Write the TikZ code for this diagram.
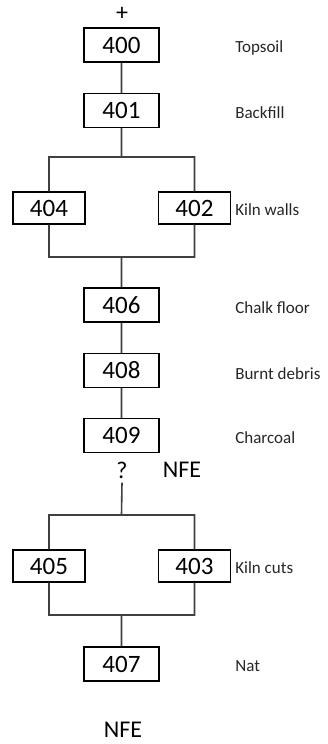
\documentclass[tikz,border=0pt]{standalone}
\usepackage{fontspec}
\setmainfont{Carlito}
\usepackage{tikz}

\begin{document}
\begin{tikzpicture}[x=1pt,y=-1pt,semithick]
  \tikzstyle{every node}=[inner sep=0pt]
  \tikzstyle{ctx}=[draw=black,line width=1.3pt,minimum width=75pt,minimum height=34pt,
    font=\fontsize{25}{30}\selectfont]
  \tikzstyle{side}=[ctx,minimum width=72pt,minimum height=32pt]
  \tikzstyle{lbl}=[anchor=west,font=\fontsize{17}{20}\selectfont,text=black!85]
  \tikzstyle{sign}=[font=\fontsize{24}{28}\selectfont]
  \tikzstyle{link}=[draw=black!75,line width=1.6pt]

  \useasboundingbox (0,0) rectangle (327,744);

  \node[sign]  (top)  at (122,14)    {+};
  \node[ctx]   (400)  at (121.5,45)  {400};
  \node[ctx]   (401)  at (121.5,110.5) {401};
  \node[side]  (404)  at (49,208)    {404};
  \node[side]  (402)  at (194.5,208) {402};
  \node[ctx]   (406)  at (121.5,305) {406};
  \node[ctx]   (408)  at (121.5,370.5) {408};
  \node[ctx]   (409)  at (121.5,435.5) {409};
  \node[sign]  (q)    at (122,470)   {?};
  \node[sign]  (nfe1) at (182,470)   {NFE};
  \node[side]  (405)  at (49,566)    {405};
  \node[side]  (403)  at (194.5,566) {403};
  \node[ctx]   (407)  at (121.5,664) {407};
  \node[sign]  (nfe2) at (123,730)   {NFE};

  \coordinate (j1) at (121.5,157);
  \coordinate (j2) at (121.5,257);
  \coordinate (j3) at (121.5,515);
  \coordinate (j4) at (121.5,615);

  % phase labels
  \node[lbl] at (235,48)  {Topsoil};
  \node[lbl] at (235,113) {Backfill};
  \node[lbl] at (235,210) {Kiln walls};
  \node[lbl] at (235,308) {Chalk floor};
  \node[lbl] at (235,374) {Burnt debris};
  \node[lbl] at (235,438) {Charcoal};
  \node[lbl] at (235,568) {Kiln cuts};
  \node[lbl] at (235,666) {Nat};

  \path[link] (400) -- (401)
              (401) -- (j1)
              (404.north) |- (j1) -| (402.north)
              (404.south) |- (j2) -| (402.south)
              (j2) -- (406)
              (406) -- (408)
              (408) -- (409)
              (q.south) ++(0,4) -- (j3)
              (405.north) |- (j3) -| (403.north)
              (405.south) |- (j4) -| (403.south)
              (j4) -- (407);
\end{tikzpicture}
\end{document}
